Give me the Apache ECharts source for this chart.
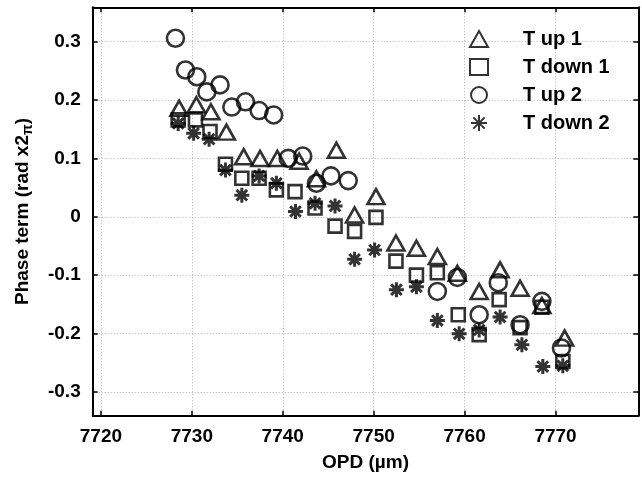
<!DOCTYPE html>
<html>
<head>
<meta charset="utf-8">
<script src="https://cdn.jsdelivr.net/npm/echarts@6/dist/echarts.min.js"></script>
<style>html,body{margin:0;padding:0;background:#fff}#c{width:642px;height:481px}</style>
</head>
<body>
<div id="c"></div>
<script>
var xTicks = [7720, 7730, 7740, 7750, 7760, 7770];
var yTicks = [-0.3, -0.2, -0.1, 0, 0.1, 0.2, 0.3];

var upOneX = [7728.6, 7730.5, 7732.1, 7733.8, 7735.7, 7737.5, 7739.4, 7741.8, 7743.7, 7745.9, 7747.9, 7750.25, 7752.45, 7754.7, 7757.0, 7759.2, 7761.6, 7763.9, 7766.1, 7768.5, 7771.0];
var upOneY = [0.186, 0.192, 0.180, 0.145, 0.103, 0.100, 0.100, 0.095, 0.065, 0.114, 0.003, 0.0345, -0.045, -0.054, -0.068, -0.097, -0.128, -0.091, -0.1225, -0.152, -0.208];

var downOneX = [7728.5, 7730.4, 7732.0, 7733.7, 7735.5, 7737.4, 7739.3, 7741.35, 7743.55, 7745.75, 7747.9, 7750.25, 7752.45, 7754.7, 7757.0, 7759.3, 7761.6, 7763.8, 7766.1, 7768.5, 7770.8];
var downOneY = [0.166, 0.166, 0.146, 0.090, 0.066, 0.066, 0.046, 0.043, 0.015, -0.016, -0.025, -0.001, -0.076, -0.100, -0.096, -0.168, -0.202, -0.142, -0.190, -0.155, -0.248];

var upTwoX = [7728.2, 7729.3, 7730.55, 7731.65, 7733.1, 7734.4, 7735.9, 7737.4, 7739.0, 7740.6, 7742.2, 7743.7, 7745.3, 7747.2, 7757.0, 7759.2, 7761.6, 7763.7, 7766.1, 7768.5, 7770.65];
var upTwoY = [0.306, 0.2515, 0.240, 0.214, 0.226, 0.188, 0.197, 0.182, 0.1745, 0.100, 0.104, 0.0575, 0.070, 0.062, -0.128, -0.104, -0.168, -0.113, -0.185, -0.145, -0.225];

var downTwoX = [7728.5, 7730.2, 7731.9, 7733.7, 7735.5, 7737.4, 7739.3, 7741.4, 7743.55, 7745.75, 7747.9, 7750.1, 7752.5, 7754.7, 7757.0, 7759.4, 7761.6, 7763.9, 7766.3, 7768.6, 7770.8];
var downTwoY = [0.160, 0.143, 0.133, 0.080, 0.037, 0.070, 0.0575, 0.009, 0.023, 0.0186, -0.073, -0.057, -0.125, -0.120, -0.178, -0.2007, -0.194, -0.172, -0.2195, -0.2567, -0.2555];

var seriesNames = ['T up 1', 'T down 1', 'T up 2', 'T down 2'];

function zip(xs, ys) { return xs.map(function (x, i) { return [x, ys[i]]; }); }

var FONT = '"Liberation Sans", Arial, sans-serif';
var asterisk = 'path://M0,-10L0,10M-10,0L10,0M-7.07,-7.07L7.07,7.07M-7.07,7.07L7.07,-7.07';

var markStyle = { color: 'rgba(0,0,0,0)', borderColor: '#000', borderWidth: 2.6 };
var starStyle = { color: 'rgba(0,0,0,0)', borderColor: '#000', borderWidth: 3 };

var xMin = 7719.1, xMax = 7779.1, yMin = -0.341, yMax = 0.359;

function baseAxis(extra) {
  var a = {
    type: 'value',
    axisLine: { show: true, onZero: false, lineStyle: { color: '#000', width: 2 } },
    axisTick: { show: true, inside: true, length: 5, lineStyle: { color: '#000', width: 1.5 } },
    splitLine: { show: false },
    axisLabel: { show: false }
  };
  for (var k in extra) a[k] = extra[k];
  return a;
}

var chart = echarts.init(document.getElementById('c'), null, { renderer: 'canvas' });
chart.setOption({
  animation: false,
  backgroundColor: '#fff',
  grid: { left: 92.7, right: 3.7, top: 7.3, bottom: 65.3, containLabel: false },
  legend: {
    orient: 'vertical',
    left: 464, top: 24,
    itemWidth: 18, itemHeight: 16, itemGap: 8,
    textStyle: { fontFamily: FONT, fontSize: 20, fontWeight: 'bold', color: '#000', padding: [0, 0, 0, 30] },
    data: seriesNames
  },
  xAxis: [
    baseAxis({
      min: xMin, max: xMax, position: 'bottom',
      axisTick: { show: true, inside: true, length: 5, customValues: xTicks, lineStyle: { color: '#000', width: 1.5 } },
      axisLabel: { show: true, customValues: xTicks, margin: 12, fontFamily: FONT, fontSize: 19, fontWeight: 'bold', color: '#000',
        formatter: function (v) { return String(Math.round(v)); } },
      splitLine: { show: true, lineStyle: { color: '#b0b0b0', width: 1, type: [1, 2] } },
      name: 'OPD (\u00b5m)', nameLocation: 'middle', nameGap: 38,
      nameTextStyle: { fontFamily: FONT, fontSize: 19, fontWeight: 'bold', color: '#000' }
    }),
    baseAxis({
      min: xMin, max: xMax, position: 'top',
      axisTick: { show: true, inside: true, length: 5, customValues: xTicks, lineStyle: { color: '#000', width: 1.5 } }
    })
  ],
  yAxis: [
    baseAxis({
      min: yMin, max: yMax, position: 'left',
      axisTick: { show: true, inside: true, length: 5, customValues: yTicks, lineStyle: { color: '#000', width: 1.5 } },
      axisLabel: { show: true, customValues: yTicks, margin: 12, fontFamily: FONT, fontSize: 19, fontWeight: 'bold', color: '#000',
        formatter: function (v) { return Math.abs(v) < 1e-9 ? '0' : String(Math.round(v * 10) / 10); } },
      splitLine: { show: true, lineStyle: { color: '#b0b0b0', width: 1, type: [1, 2] } },
      name: '{a|Phase term (rad x2}{b|\u03c0}{a|)}', nameLocation: 'middle', nameGap: 58,
      nameTextStyle: { fontFamily: FONT, fontSize: 19, fontWeight: 'bold', color: '#000',
        rich: {
          a: { fontFamily: FONT, fontSize: 19, fontWeight: 'bold', color: '#000', lineHeight: 24, verticalAlign: 'middle' },
          b: { fontFamily: FONT, fontSize: 14, fontWeight: 'bold', color: '#000', lineHeight: 24, verticalAlign: 'bottom', padding: [8, 0, 0, 0] }
        } }
    }),
    baseAxis({
      min: yMin, max: yMax, position: 'right',
      axisTick: { show: true, inside: true, length: 5, customValues: yTicks, lineStyle: { color: '#000', width: 1.5 } }
    })
  ],
  series: [
    { name: seriesNames[0], type: 'scatter', symbol: 'triangle', symbolSize: [17, 15], itemStyle: markStyle, data: zip(upOneX, upOneY) },
    { name: seriesNames[1], type: 'scatter', symbol: 'rect', symbolSize: 13, itemStyle: markStyle, data: zip(downOneX, downOneY) },
    { name: seriesNames[2], type: 'scatter', symbol: 'circle', symbolSize: 17, itemStyle: markStyle, data: zip(upTwoX, upTwoY) },
    { name: seriesNames[3], type: 'scatter', symbol: asterisk, symbolSize: 15, itemStyle: starStyle, data: zip(downTwoX, downTwoY) }
  ]
});
</script>
</body>
</html>
